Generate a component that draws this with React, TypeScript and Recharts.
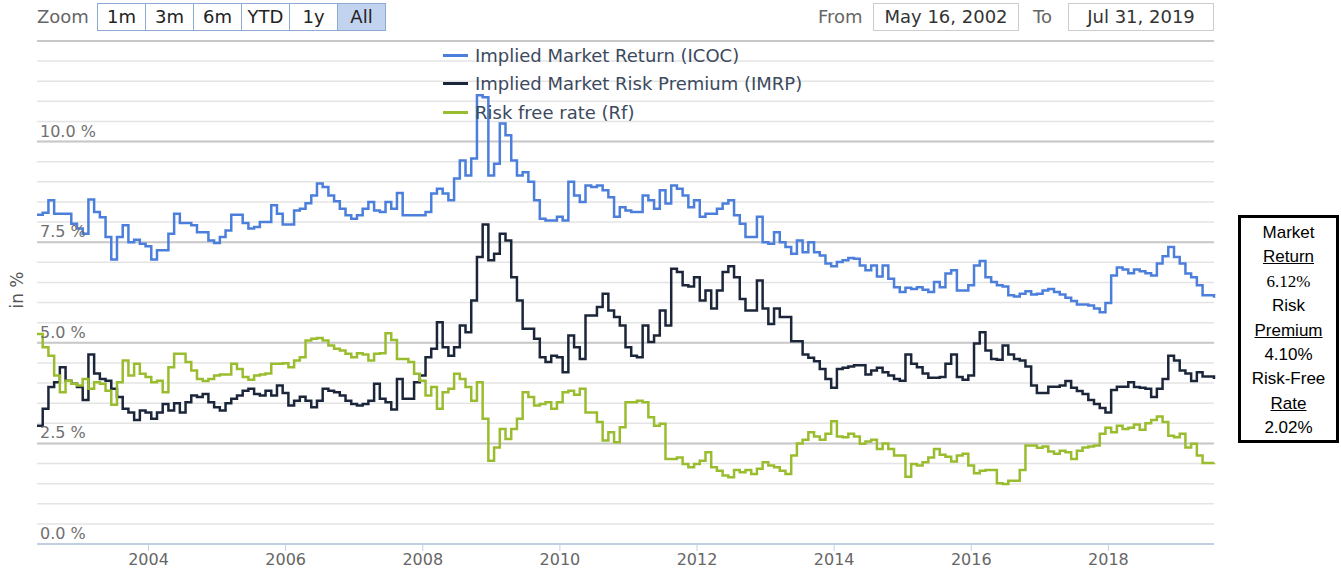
import React from "react";
import { CartesianGrid, Legend, Line, LineChart, ReferenceLine, XAxis, YAxis } from "recharts";

// monthly observations, first one on May 16, 2002
const START_YEAR = 2002;
const START_MONTH = 5;
const START_DAY = 16;

const icoc = [
  8.18, 8.23, 8.54, 8.21, 8.21, 8.21, 7.96, 7.84, 7.71, 8.56,
  8.25, 8.12, 7.63, 7.07, 7.63, 7.92, 7.5, 7.56, 7.46, 7.4,
  7.07, 7.3, 7.3, 7.71, 8.21, 7.98, 7.98, 7.92, 7.75, 7.75,
  7.54, 7.48, 7.63, 7.79, 8.18, 8.18, 7.98, 7.84, 7.88, 8.0,
  8.0, 8.42, 8.21, 7.94, 7.94, 8.29, 8.33, 8.47, 8.66, 8.96,
  8.87, 8.66, 8.52, 8.33, 8.17, 8.08, 8.17, 8.33, 8.5, 8.29,
  8.25, 8.5, 8.33, 8.72, 8.17, 8.17, 8.17, 8.17, 8.25, 8.71,
  8.83, 8.71, 8.54, 9.08, 9.53, 9.16, 9.58, 11.15, 11.1, 9.16,
  9.45, 10.45, 10.16, 9.53, 9.16, 9.24, 9.0, 8.54, 8.08, 8.04,
  8.04, 8.13, 8.04, 9.0, 8.66, 8.5, 8.91, 8.87, 8.91, 8.79,
  8.62, 8.13, 8.37, 8.29, 8.25, 8.25, 8.66, 8.54, 8.33, 8.79,
  8.46, 8.91, 8.83, 8.66, 8.37, 8.54, 8.13, 8.21, 8.21, 8.33,
  8.46, 8.54, 8.17, 7.96, 7.63, 7.63, 8.13, 7.5, 7.46, 7.75,
  7.5, 7.38, 7.21, 7.54, 7.25, 7.5, 7.25, 7.17, 6.97, 6.9,
  7.01, 7.05, 7.11, 7.09, 6.92, 6.8, 6.92, 6.65, 6.92, 6.59,
  6.38, 6.26, 6.37, 6.34, 6.38, 6.32, 6.26, 6.51, 6.38, 6.72,
  6.8, 6.3, 6.3, 6.43, 6.92, 7.03, 6.63, 6.51, 6.43, 6.4,
  6.18, 6.15, 6.22, 6.28, 6.2, 6.22, 6.3, 6.34, 6.26, 6.2,
  6.12, 6.04, 5.95, 5.95, 5.93, 5.85, 5.76, 5.99, 6.67, 6.87,
  6.82, 6.73, 6.82, 6.78, 6.73, 6.67, 6.97, 7.15, 7.38, 7.13,
  6.97, 6.72, 6.63, 6.43, 6.18, 6.18, 6.12,
];

const imrp = [
  2.94, 3.36, 3.9, 4.02, 4.39, 4.06, 3.98, 3.9, 3.58, 4.71,
  4.24, 4.1, 4.06, 3.86, 3.65, 3.36, 3.27, 3.08, 3.32, 3.27,
  3.11, 3.27, 3.48, 3.32, 3.5, 3.27, 3.52, 3.69, 3.65, 3.73,
  3.52, 3.4, 3.32, 3.5, 3.61, 3.69, 3.81, 3.86, 3.73, 3.69,
  3.81, 3.69, 3.94, 3.75, 3.44, 3.56, 3.66, 3.56, 3.4, 3.56,
  3.86, 3.81, 3.77, 3.69, 3.56, 3.48, 3.44, 3.48, 3.56, 3.98,
  3.61, 3.52, 3.34, 4.1, 3.61, 3.61, 4.02, 4.19, 4.64, 4.85,
  5.51, 4.89, 4.68, 4.89, 5.43, 5.26, 6.05, 7.13, 7.94, 7.05,
  7.21, 7.71, 7.54, 6.63, 6.05, 5.35, 5.35, 5.1, 4.64, 4.52,
  4.68, 4.64, 4.27, 5.18, 4.89, 4.6, 5.68, 5.68, 5.89, 6.22,
  5.8, 5.64, 5.43, 4.89, 4.68, 4.64, 5.43, 5.02, 5.18, 5.8,
  5.43, 6.84, 6.76, 6.43, 6.4, 6.63, 6.05, 6.3, 5.85, 6.3,
  6.76, 6.9, 6.63, 6.09, 5.8, 5.8, 6.55, 5.85, 5.47, 5.85,
  5.64, 5.64, 5.04, 5.04, 4.71, 4.63, 4.54, 4.35, 4.1, 3.88,
  4.35, 4.38, 4.41, 4.44, 4.44, 4.21, 4.31, 4.38, 4.27, 4.19,
  4.1, 4.06, 4.71, 4.48, 4.39, 4.24, 4.13, 4.13, 4.15, 4.48,
  4.71, 4.15, 4.08, 4.19, 4.98, 5.26, 4.81, 4.6, 4.58, 4.93,
  4.71, 4.6, 4.56, 4.41, 3.94, 3.75, 3.75, 3.91, 3.91, 3.94,
  4.05, 3.88, 3.8, 3.73, 3.58, 3.48, 3.38, 3.27, 3.83, 3.91,
  3.91, 4.02, 3.9, 3.88, 3.86, 3.65, 3.86, 4.1, 4.68, 4.56,
  4.31, 4.24, 4.05, 4.27, 4.16, 4.16, 4.1,
];

const rf = [
  5.22, 4.89, 4.68, 4.19, 3.77, 4.06, 3.98, 3.94, 4.1, 3.86,
  4.02, 3.98, 3.81, 3.46, 4.02, 4.56, 4.19, 4.48, 4.23, 4.15,
  4.02, 4.06, 3.77, 4.39, 4.73, 4.73, 4.52, 4.31, 4.1, 4.05,
  4.1, 4.19, 4.21, 4.21, 4.48, 4.35, 4.15, 4.08, 4.19, 4.21,
  4.24, 4.48, 4.48, 4.49, 4.39, 4.56, 4.64, 5.06, 5.1, 5.12,
  5.06, 4.93, 4.85, 4.81, 4.73, 4.64, 4.74, 4.71, 4.56, 4.73,
  4.74, 5.24, 5.07, 4.6, 4.6, 4.52, 4.23, 4.06, 3.69, 3.9,
  3.36, 3.77, 3.86, 4.23, 4.1, 3.9, 3.56, 4.02, 3.11, 2.07,
  2.4, 2.86, 2.61, 2.86, 3.11, 3.77, 3.65, 3.44, 3.48, 3.52,
  3.36, 3.52, 3.77, 3.81, 3.71, 3.86, 3.27, 3.27, 3.03, 2.57,
  2.78, 2.53, 2.9, 3.52, 3.52, 3.56, 3.52, 3.15, 2.94, 2.99,
  2.11, 2.11, 2.15, 1.99, 1.91, 1.99, 2.07, 2.28, 1.91, 1.82,
  1.7, 1.66, 1.84, 1.78, 1.84, 1.74, 1.87, 2.03, 1.95, 1.91,
  1.82, 1.74, 2.2, 2.5, 2.59, 2.78, 2.67, 2.59, 2.74, 3.05,
  2.67, 2.65, 2.74, 2.67, 2.49, 2.55, 2.59, 2.36, 2.5, 2.36,
  2.2, 2.2, 1.67, 1.99, 1.95, 2.03, 2.15, 2.36, 2.22, 2.17,
  2.05, 2.2, 2.24, 1.95, 1.76, 1.82, 1.84, 1.84, 1.51, 1.49,
  1.57, 1.57, 1.84, 2.45, 2.45, 2.39, 2.42, 2.3, 2.24, 2.32,
  2.28, 2.11, 2.32, 2.4, 2.42, 2.45, 2.74, 2.89, 2.78, 2.94,
  2.86, 2.89, 2.97, 2.84, 3.0, 3.08, 3.17, 3.03, 2.69, 2.65,
  2.74, 2.4, 2.49, 2.2, 2.01, 2.01, 2.02,
];

const yearTicks = [2004, 2006, 2008, 2010, 2012, 2014, 2016, 2018];
const yTicks = [0, 0.5, 1, 1.5, 2, 2.5, 3, 3.5, 4, 4.5, 5, 5.5, 6, 6.5, 7, 7.5, 8, 8.5, 9, 9.5, 10, 10.5, 11, 11.5, 12, 12.5];
const yLabelled = [0, 2.5, 5, 7.5, 10];
const yMajor = [2.5, 5, 7.5, 10, 12.5];

const zoomButtons = ["1m", "3m", "6m", "YTD", "1y", "All"];
const fromLabel = "May 16, 2002";
const toLabel = "Jul 31, 2019";

const boxLines = [
  { text: "Market" },
  { text: "Return", underline: true },
  { text: "6.12%", serif: true },
  { text: "Risk" },
  { text: "Premium", underline: true },
  { text: "4.10%" },
  { text: "Risk-Free" },
  { text: "Rate", underline: true },
  { text: "2.02%" },
];

const FONT = "'DejaVu Sans', sans-serif";

// labels sit inside the plot, just above the 2.5 % lines
const renderYTick = (props: any) => {
  const { x, y, payload } = props;
  const v = payload.value as number;
  if (!yLabelled.includes(v)) return <g key={`yt-${v}`} />;
  return (
    <text key={`yt-${v}`} x={x + 3} y={y - 5} fill="#707070" fontSize={16} fontFamily={FONT} textAnchor="start">
      {v.toFixed(1)} %
    </text>
  );
};

const renderLegend = (props: any) => (
  <div style={{ fontFamily: FONT, fontSize: 18, color: "#3b4a5e" }}>
    {(props.payload || []).map((e: any) => (
      <div key={e.value} style={{ display: "flex", alignItems: "center", height: 28.5, whiteSpace: "nowrap" }}>
        <span style={{ display: "inline-block", width: 25, height: 3, background: e.color, marginRight: 7 }} />
        <span>{e.value}</span>
      </div>
    ))}
  </div>
);

export default function App() {
  const rows = icoc.map((v, i) => ({
    t: START_YEAR + (START_MONTH - 1 + (START_DAY - 1) / 31 + i) / 12,
    icoc: v,
    imrp: imrp[i],
    rf: rf[i],
  }));

  return (
    <div
      style={{
        position: "absolute",
        left: 0,
        top: 0,
        width: 1341,
        height: 571,
        background: "#fff",
        overflow: "hidden",
        fontFamily: FONT,
      }}
    >
      <LineChart
        width={1226}
        height={571}
        data={rows}
        margin={{ top: 41, right: 12, bottom: 0, left: 0 }}
        style={{ position: "absolute", left: 0, top: 0 }}
      >
        <CartesianGrid vertical={false} stroke="#e4e4e4" strokeWidth={1.5} />
        {yMajor.map((v) => (
          <ReferenceLine key={v} y={v} stroke="#c8c8c8" strokeWidth={2} />
        ))}
        <XAxis
          dataKey="t"
          type="number"
          domain={["dataMin", "dataMax"]}
          ticks={yearTicks}
          interval={0}
          height={27}
          tickSize={7}
          tickMargin={3}
          axisLine={{ stroke: "#c0d0e0", strokeWidth: 2 }}
          tickLine={{ stroke: "#c0d0e0" }}
          tick={{ fill: "#666", fontSize: 16, fontFamily: FONT }}
        />
        <YAxis
          domain={[0, 12.5]}
          ticks={yTicks}
          interval={0}
          width={37}
          tickSize={0}
          tickMargin={0}
          axisLine={false}
          tickLine={false}
          tick={renderYTick}
        />
        <Legend
          layout="vertical"
          align="center"
          verticalAlign="middle"
          wrapperStyle={{ top: 41, left: 443, width: 420 }}
          content={renderLegend}
        />
        <Line
          type="stepAfter"
          dataKey="icoc"
          name="Implied Market Return (ICOC)"
          stroke="#4b7fdb"
          strokeWidth={2.5}
          dot={false}
          activeDot={false}
          isAnimationActive={false}
        />
        <Line
          type="stepAfter"
          dataKey="imrp"
          name="Implied Market Risk Premium (IMRP)"
          stroke="#1c263a"
          strokeWidth={2.5}
          dot={false}
          activeDot={false}
          isAnimationActive={false}
        />
        <Line
          type="stepAfter"
          dataKey="rf"
          name="Risk free rate (Rf)"
          stroke="#9abd2f"
          strokeWidth={2.5}
          dot={false}
          activeDot={false}
          isAnimationActive={false}
        />
      </LineChart>

      {/* y axis title */}
      <div
        style={{
          position: "absolute",
          left: 17,
          top: 290,
          transform: "translate(-50%, -50%) rotate(-90deg)",
          fontSize: 17,
          color: "#555",
          whiteSpace: "nowrap",
        }}
      >
        in %
      </div>

      {/* range selector */}
      <div style={{ position: "absolute", left: 37, top: 3, height: 27, lineHeight: "27px", fontSize: 18, color: "#666" }}>
        Zoom
      </div>
      <div style={{ position: "absolute", left: 97, top: 3, display: "flex" }}>
        {zoomButtons.map((b, i) => (
          <div
            key={b}
            style={{
              width: 47,
              height: 26,
              lineHeight: "26px",
              textAlign: "center",
              fontSize: 18,
              color: "#222",
              border: "1px solid #8eaad3",
              marginLeft: i === 0 ? 0 : -1,
              background: b === "All" ? "#c2d3ef" : "#fff",
            }}
          >
            {b}
          </div>
        ))}
      </div>
      <div style={{ position: "absolute", left: 818, top: 3, height: 28, lineHeight: "28px", fontSize: 18, color: "#666" }}>
        From
      </div>
      <div
        style={{
          position: "absolute",
          left: 873,
          top: 3,
          width: 144,
          height: 26,
          lineHeight: "26px",
          textAlign: "center",
          fontSize: 18,
          color: "#333",
          border: "1px solid #ccc",
        }}
      >
        {fromLabel}
      </div>
      <div style={{ position: "absolute", left: 1033, top: 3, height: 28, lineHeight: "28px", fontSize: 18, color: "#666" }}>
        To
      </div>
      <div
        style={{
          position: "absolute",
          left: 1068,
          top: 3,
          width: 144,
          height: 26,
          lineHeight: "26px",
          textAlign: "center",
          fontSize: 18,
          color: "#333",
          border: "1px solid #ccc",
        }}
      >
        {toLabel}
      </div>

      {/* summary box */}
      <div
        style={{
          position: "absolute",
          left: 1238,
          top: 215,
          width: 95,
          height: 219,
          border: "3px solid #000",
          paddingTop: 3,
          boxSizing: "content-box",
          textAlign: "center",
          fontFamily: "'Liberation Sans', Arial, sans-serif",
          fontSize: 17,
          lineHeight: "24.4px",
          color: "#000",
        }}
      >
        {boxLines.map((l) => (
          <div
            key={l.text}
            style={{
              textDecoration: l.underline ? "underline" : "none",
              fontFamily: l.serif ? "'Liberation Serif', serif" : undefined,
            }}
          >
            {l.text}
          </div>
        ))}
      </div>
    </div>
  );
}
